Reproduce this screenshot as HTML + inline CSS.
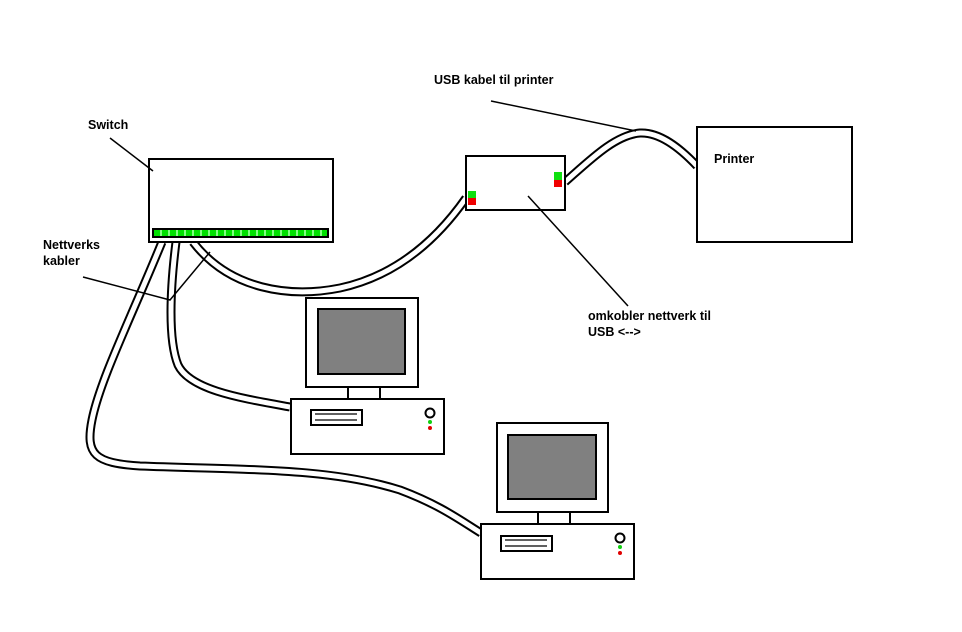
<!DOCTYPE html>
<html><head><style>
html,body{margin:0;padding:0;background:#fff;}
svg{display:block;}
text{font-family:"Liberation Sans",Arial,sans-serif;font-weight:bold;font-size:12.5px;fill:#000;}
</style></head><body>
<svg width="962" height="632" viewBox="0 0 962 632" xmlns="http://www.w3.org/2000/svg">
<defs>
<pattern id="leds" x="154" y="230" width="8" height="6" patternUnits="userSpaceOnUse">
<rect x="0" y="0" width="6" height="6" fill="#00e000"/><rect x="6" y="0" width="2" height="6" fill="#80ff80"/>
</pattern>
</defs>
<!-- cables -->
<g fill="none" stroke-linecap="butt">
<g stroke="#000" stroke-width="9">
<path d="M193,242 C230,290 290,298 340,288 C400,275 440,235 466,198"/>
<path d="M176,242 C170,290 168,340 178,365 C190,390 240,398 290,407"/>
<path d="M162,242 C130,320 100,380 92,420 C85,455 95,463 140,466 C250,470 330,468 400,490 C440,505 460,520 481,533"/>
<path d="M565,182 C590,160 615,135 640,133 C660,132 680,148 697,166"/>
</g>
<g stroke="#fff" stroke-width="5">
<path d="M193,242 C230,290 290,298 340,288 C400,275 440,235 466,198"/>
<path d="M176,242 C170,290 168,340 178,365 C190,390 240,398 290,407"/>
<path d="M162,242 C130,320 100,380 92,420 C85,455 95,463 140,466 C250,470 330,468 400,490 C440,505 460,520 481,533"/>
<path d="M565,182 C590,160 615,135 640,133 C660,132 680,148 697,166"/>
</g>
</g>
<!-- switch -->
<rect x="149" y="159" width="184" height="83" fill="#fff" stroke="#000" stroke-width="2"/>
<rect x="152" y="228" width="177" height="10" fill="#000"/>
<rect x="154" y="230" width="173" height="6" fill="url(#leds)"/>
<!-- converter -->
<rect x="466" y="156" width="99" height="54" fill="#fff" stroke="#000" stroke-width="2"/>
<rect x="468" y="191" width="8" height="7" fill="#10e010"/><rect x="468" y="198" width="8" height="7" fill="#f00000"/>
<rect x="554" y="172" width="8" height="8" fill="#10e010"/><rect x="554" y="180" width="8" height="7" fill="#f00000"/>
<!-- printer -->
<rect x="697" y="127" width="155" height="115" fill="#fff" stroke="#000" stroke-width="2"/>
<!-- PC1 -->
<g stroke="#000" stroke-width="2">
<rect x="306" y="298" width="112" height="89" fill="#fff"/>
<rect x="318" y="309" width="87" height="65" fill="#808080"/>
<rect x="348" y="387" width="32" height="12" fill="#fff"/>
<rect x="291" y="399" width="153" height="55" fill="#fff"/>
<rect x="311" y="410" width="51" height="15" fill="#fff"/>
<path d="M315,414 H357 M315,420 H357" stroke-width="1.2"/>
<circle cx="430" cy="413" r="4.5" fill="#fff"/>
</g>
<circle cx="430" cy="422" r="2" fill="#10d010"/><circle cx="430" cy="428" r="2" fill="#e00000"/>
<!-- PC2 -->
<g stroke="#000" stroke-width="2">
<rect x="497" y="423" width="111" height="89" fill="#fff"/>
<rect x="508" y="435" width="88" height="64" fill="#808080"/>
<rect x="538" y="512" width="32" height="12" fill="#fff"/>
<rect x="481" y="524" width="153" height="55" fill="#fff"/>
<rect x="501" y="536" width="51" height="15" fill="#fff"/>
<path d="M505,540 H547 M505,546 H547" stroke-width="1.2"/>
<circle cx="620" cy="538" r="4.5" fill="#fff"/>
</g>
<circle cx="620" cy="547" r="2" fill="#10d010"/><circle cx="620" cy="553" r="2" fill="#e00000"/>
<!-- leader lines -->
<g stroke="#000" stroke-width="1.5" fill="none">
<path d="M110,138 L153,171"/>
<path d="M83,277 L170,300 L210,252"/>
<path d="M491,101 L636,131"/>
<path d="M528,196 L628,306"/>
</g>
<!-- labels -->
<text x="88" y="129">Switch</text>
<text x="43" y="249">Nettverks</text>
<text x="43" y="265">kabler</text>
<text x="434" y="84">USB kabel til printer</text>
<text x="714" y="163">Printer</text>
<text x="588" y="320">omkobler nettverk til</text>
<text x="588" y="336">USB &lt;--&gt;</text>
</svg>
</body></html>
